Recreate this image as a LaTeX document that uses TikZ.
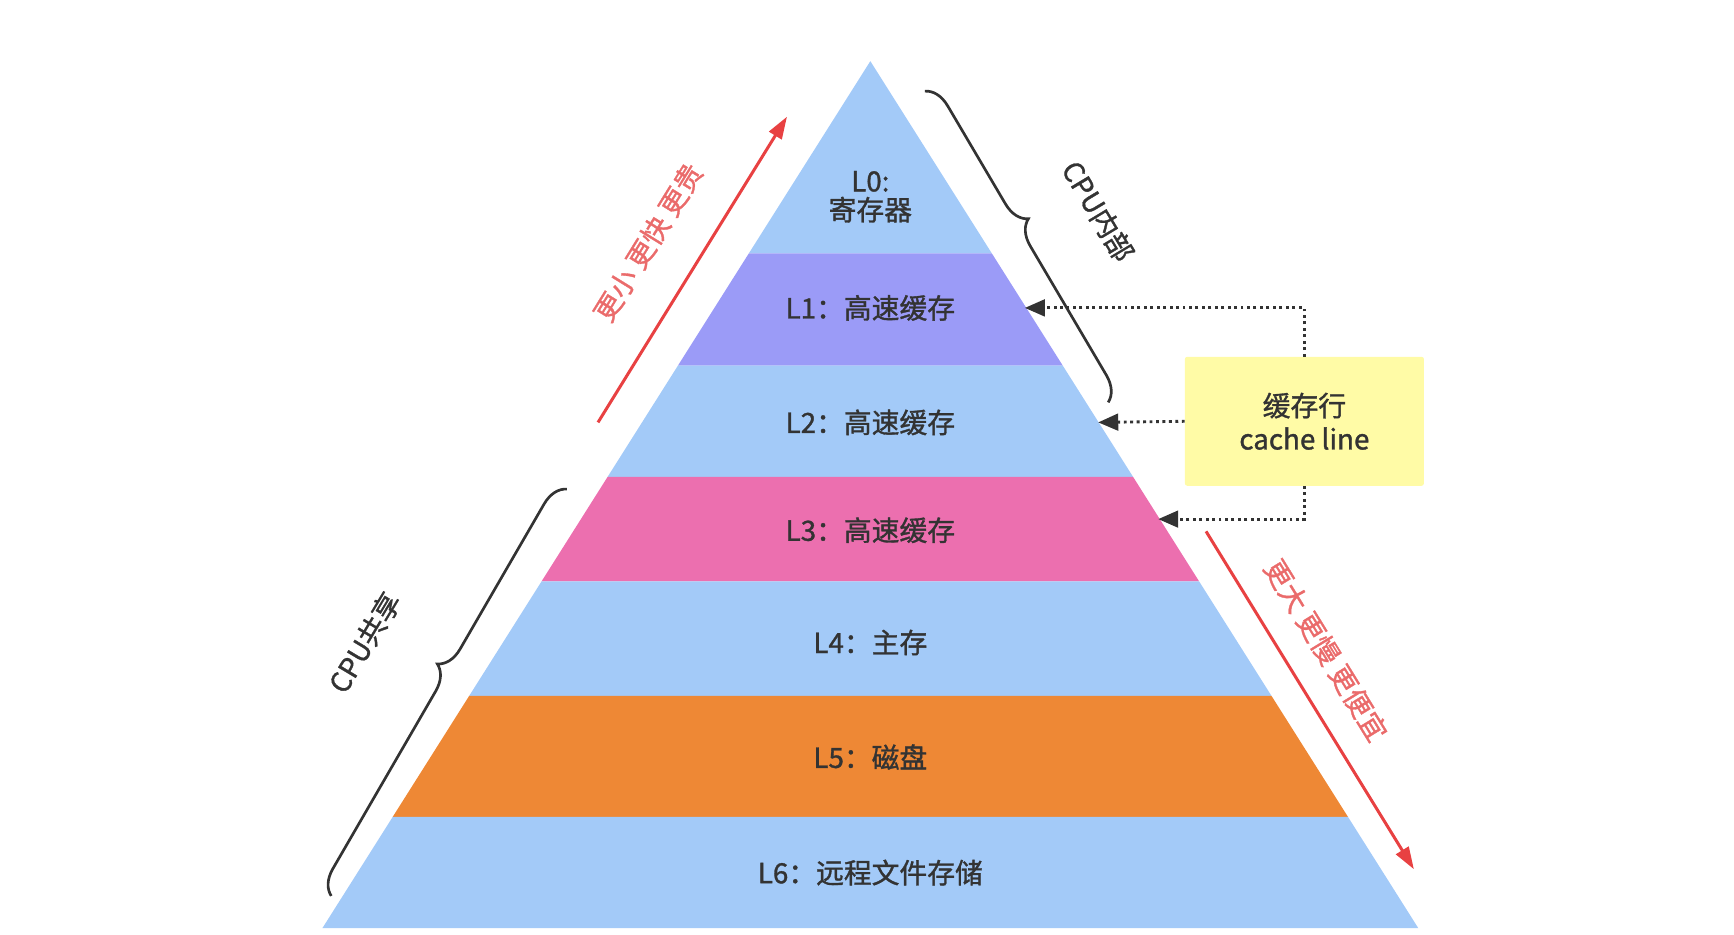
\documentclass[tikz,border=0pt]{standalone}
\usepackage{fontspec}
\setmainfont{Noto Sans CJK SC}[FakeBold=1.2,AutoFakeBold=false]
\usetikzlibrary{decorations.pathreplacing,arrows.meta}
\definecolor{bl}{HTML}{A3CAF8}
\definecolor{pu}{HTML}{9B9BF7}
\definecolor{pk}{HTML}{EC6FAF}
\definecolor{or}{HTML}{EE8835}
\definecolor{ye}{HTML}{FFFBA6}
\definecolor{rd}{HTML}{E84142}
\definecolor{rt}{HTML}{EA6B6B}
\definecolor{dk}{HTML}{333333}
\begin{document}
\begin{tikzpicture}[x=1pt,y=-1pt,
  lab/.style={font=\fontsize{25}{30}\selectfont,text=dk,align=center},
  side/.style={font=\fontsize{25}{30}\selectfont,text=dk,inner sep=0pt},
  red/.style={font=\fontsize{25}{30}\selectfont,text=rt,inner sep=0pt},
  br/.style={draw=dk,line width=2.4pt,decorate,decoration={brace,amplitude=22pt,aspect=#1}},
  dot/.style={draw=dk,line width=2.6pt,dash pattern=on 2.6pt off 3.2pt,-{Triangle[length=18pt,width=15pt]}},
  rar/.style={draw=rd,line width=2.7pt,-{Triangle[length=20pt,width=13pt]}}]
\useasboundingbox (0,0) rectangle (1560,841);
\def\band#1#2#3{\fill[#3] ({783-0.632*(#1-55)},#1) -- ({783+0.632*(#1-55)},#1) -- ({783+0.632*(#2-55)},#2) -- ({783-0.632*(#2-55)},#2) -- cycle;}
\fill[bl] (783,55) -- ({783+0.632*173},228) -- ({783-0.632*173},228) -- cycle;
\band{228}{329}{pu}
\band{329}{429}{bl}
\band{429}{523}{pk}
\band{523}{626}{bl}
\band{626}{735}{or}
\band{735}{835}{bl}
\node[lab] (l0) at (783,177) {L0:\\[-4pt]寄存器};
\node[lab] (l1) at (783,277) {L1：高速缓存};
\node[lab] (l2) at (783,380) {L2：高速缓存};
\node[lab] (l3) at (783,477) {L3：高速缓存};
\node[lab] (l4) at (783,578) {L4：主存};
\node[lab] (l5) at (783,681) {L5：磁盘};
\node[lab] (l6) at (783,785) {L6：远程文件存储};
\node[lab,fill=ye,rounded corners=2pt,minimum width=215pt,minimum height=116pt,inner sep=0pt] (cl) at (1173.5,379) {缓存行\\cache line};
\coordinate (t1) at (922,277);
\coordinate (t2) at (988,380);
\coordinate (t3) at (1042,467);
\draw[dot] (cl.north) |- (t1);
\draw[dot] (cl.west) -- (t2);
\draw[dot] (cl.south) |- (t3);
\coordinate (ba) at (832,82); \coordinate (bb) at (997,362);
\draw[br=0.45] (ba) -- (bb);
\coordinate (bc) at (298,806); \coordinate (bd) at (510,440);
\draw[br=0.54] (bc) -- (bd);
\node[side,rotate=-59] (cpu1) at (988,190) {CPU内部};
\node[side,rotate=59] (cpu2) at (328,578) {CPU共享};
\coordinate (a1) at (538,380); \coordinate (a2) at (708,105);
\draw[rar] (a1) -- (a2);
\coordinate (a3) at (1085,478); \coordinate (a4) at (1272,782);
\draw[rar] (a3) -- (a4);
\node[red,rotate=58.3] (r1) at (583,218) {更小 更快 更贵};
\node[red,rotate=-58.4] (r2) at (1193,585) {更大 更慢 更便宜};
\end{tikzpicture}
\end{document}
